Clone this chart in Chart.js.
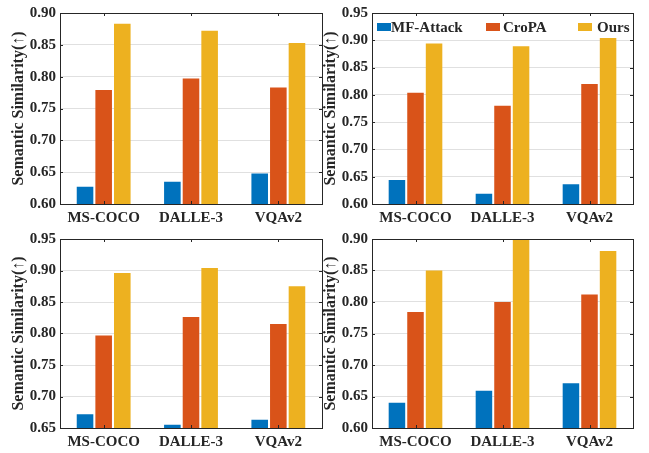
<!DOCTYPE html>
<html>
<head>
<meta charset="utf-8">
<script src="https://cdn.jsdelivr.net/npm/chart.js@4"></script>
<style>
  body { margin: 0; background: #fff; }
  #wrap { position: relative; width: 649px; height: 453px; overflow: hidden; }
  canvas { position: absolute; }
</style>
</head>
<body>
<div id="wrap">
  <canvas id="c1" width="325" height="226" style="left:0;top:0"></canvas>
  <canvas id="c2" width="337" height="226" style="left:312px;top:0"></canvas>
  <canvas id="c3" width="325" height="227" style="left:0;top:226px"></canvas>
  <canvas id="c4" width="337" height="227" style="left:312px;top:226px"></canvas>
</div>
<script>
const categories = ['MS-COCO', 'DALLE-3', 'VQAv2'];
const seriesNames = ['MF-Attack', 'CroPA', 'Ours'];

// top-left panel
const mfA = [0.627, 0.635, 0.648];
const cropaA = [0.779, 0.797, 0.783];
const oursA = [0.883, 0.872, 0.853];
// top-right panel
const mfB = [0.644, 0.619, 0.636];
const cropaB = [0.804, 0.780, 0.820];
const oursB = [0.894, 0.889, 0.904];
// bottom-left panel
const mfC = [0.672, 0.655, 0.663];
const cropaC = [0.797, 0.826, 0.815];
const oursC = [0.896, 0.904, 0.875];
// bottom-right panel
const mfD = [0.640, 0.659, 0.671];
const cropaD = [0.784, 0.800, 0.812];
const oursD = [0.850, 0.899, 0.881];

const yRanges = [[0.60, 0.90], [0.60, 0.95], [0.65, 0.95], [0.60, 0.90]];

const COLORS = ['#0072BD', '#D95319', '#EDB120'];
const FONT = '"Liberation Serif", "Times New Roman", serif';
const TEXT = '#262626';

const framePlugin = {
    id: 'frame',
    afterDatasetsDraw(chart) {
        const {ctx, chartArea: a, scales} = chart;
        ctx.save();
        ctx.strokeStyle = '#262626';
        ctx.lineWidth = 1;
        ctx.beginPath();
        // inward tick marks on all sides
        scales.y.ticks.forEach(t => {
            let py = Math.round(scales.y.getPixelForValue(t.value)) + 0.5;
            ctx.moveTo(a.left, py); ctx.lineTo(a.left + 3, py);
            ctx.moveTo(a.right, py); ctx.lineTo(a.right - 3, py);
        });
        categories.forEach((c, i) => {
            let px = Math.round(scales.x.getPixelForTick(i)) + 0.5;
            ctx.moveTo(px, a.top); ctx.lineTo(px, a.top + 3);
            ctx.moveTo(px, a.bottom); ctx.lineTo(px, a.bottom - 3);
        });
        ctx.stroke();
        ctx.strokeRect(Math.round(a.left) + 0.5, Math.round(a.top) + 0.5,
            Math.round(a.right - a.left), Math.round(a.bottom - a.top));
        ctx.restore();
    }
};

const legendPlugin = {
    id: 'insideLegend',
    afterDraw(chart, args, opts) {
        if (!opts.show) return;
        const {ctx, chartArea: a} = chart;
        const offsets = [5, 114, 206];
        const textGap = [14, 17, 19];
        ctx.save();
        ctx.font = 'bold 15px ' + FONT;
        ctx.textBaseline = 'middle';
        seriesNames.forEach((name, i) => {
            let bx = a.left + offsets[i];
            let by = a.top + 10;
            ctx.fillStyle = COLORS[i];
            ctx.fillRect(bx, by, 14, 8);
            ctx.fillStyle = TEXT;
            ctx.fillText(name, bx + textGap[i], by + 5);
        });
        ctx.restore();
    }
};

function makePanel(canvasId, mf, cropa, ours, range, padding, showLegend) {
    const ctx = document.getElementById(canvasId);
    return new Chart(ctx, {
        type: 'bar',
        data: {
            labels: categories,
            datasets: [mf, cropa, ours].map((d, i) => ({
                label: seriesNames[i],
                data: d,
                backgroundColor: COLORS[i],
                borderWidth: 0,
                categoryPercentage: 0.64,
                barPercentage: 0.89
            }))
        },
        options: {
            responsive: false,
            animation: false,
            devicePixelRatio: 1,
            layout: {padding: padding},
            plugins: {
                legend: {display: false},
                tooltip: {enabled: false},
                insideLegend: {show: showLegend}
            },
            scales: {
                x: {
                    grid: {display: false, drawTicks: false},
                    border: {display: false},
                    ticks: {
                        color: TEXT,
                        padding: 5,
                        font: {family: FONT, size: 15, weight: 'bold'}
                    },
                    afterFit: s => { s.height = 22; }
                },
                y: {
                    min: range[0],
                    max: range[1],
                    grid: {color: '#e0e0e0', drawTicks: false},
                    border: {display: false},
                    ticks: {
                        stepSize: 0.05,
                        color: TEXT,
                        padding: 4,
                        font: {family: FONT, size: 15, weight: 'bold'},
                        callback: v => v.toFixed(2)
                    },
                    title: {
                        display: true,
                        text: 'Semantic Similarity(\u2191)',
                        color: TEXT,
                        padding: {top: 9, bottom: 0},
                        font: {family: FONT, size: 16, weight: 'bold', lineHeight: 1.2}
                    },
                    afterFit: s => { s.width = 60; }
                }
            }
        },
        plugins: [framePlugin, legendPlugin]
    });
}

makePanel('c1', mfA, cropaA, oursA, yRanges[0], {top: 9, right: 3, left: 0, bottom: 0}, false);
makePanel('c2', mfB, cropaB, oursB, yRanges[1], {top: 7, right: 16, left: 0, bottom: 0}, true);
makePanel('c3', mfC, cropaC, oursC, yRanges[2], {top: 6, right: 3, left: 0, bottom: 3}, false);
makePanel('c4', mfD, cropaD, oursD, yRanges[3], {top: 7, right: 16, left: 0, bottom: 3}, false);
</script>
</body>
</html>
